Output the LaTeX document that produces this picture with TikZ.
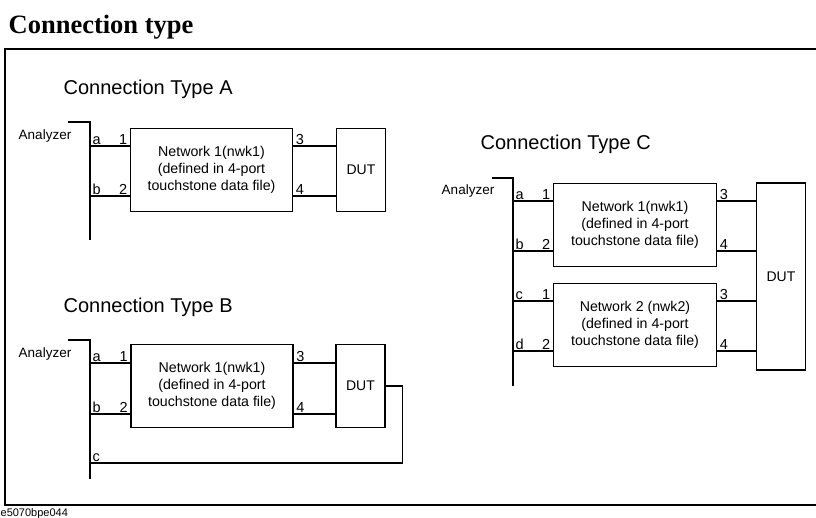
\documentclass[tikz,border=0pt]{standalone}
\usepackage{fontspec}
\setmainfont{Liberation Sans}
\newfontfamily\titlefont{Liberation Serif}
\begin{document}
\begin{tikzpicture}[x=1pt,y=-1pt,line width=1.3pt,
  netbox/.style={draw, minimum width=162pt, minimum height=83pt, align=center, inner sep=0pt,
    font=\fontsize{14.2}{17}\selectfont},
  dutbox/.style={draw, minimum width=49pt, minimum height=83pt, inner sep=0pt,
    font=\fontsize{14}{16}\selectfont},
  lbl/.style={font=\fontsize{14.5}{15}\selectfont, inner xsep=2pt, inner ysep=0.7pt},
  ttl/.style={font=\fontsize{20}{22}\selectfont, anchor=west, inner sep=0pt},
  anl/.style={font=\fontsize{13.5}{14}\selectfont, inner sep=0pt}]
\useasboundingbox (0,0) rectangle (816,517);
% heading and frame
\node[anchor=base west, inner sep=0pt, font=\titlefont\bfseries\fontsize{26.5}{28}\selectfont] (head) at (8,33) {Connection type};
\draw[line width=2pt] (816,48.5) -- (4.5,48.5) -- (4.5,505) -- (816,505);
\node[anchor=base west, inner sep=0pt, font=\fontsize{11}{12}\selectfont] (foot) at (0,516) {e5070bpe044};

% ---------------- Type A
\node[ttl] (tA) at (63,89) {Connection Type A};
\node[anl] (anA) at (45,136) {Analyzer};
\coordinate (Atop) at (68,122);
\coordinate (Aa) at (90,146);
\coordinate (Ab) at (90,196);
\coordinate (Aend) at (90,240);
\draw (Atop) -| (Aend);
\node[netbox] (nA) at (211.5,170) {Network 1(nwk1)\\(defined in 4-port\\touchstone data file)};
\node[dutbox] (dA) at (361,170) {DUT};
\draw (Aa) -- (Aa -| nA.west);
\draw (Ab) -- (Ab -| nA.west);
\draw (nA.east |- Aa) -- (dA.west |- Aa);
\draw (nA.east |- Ab) -- (dA.west |- Ab);
\node[lbl, anchor=south west] (Ala) at (Aa) {a};
\node[lbl, anchor=south west] (Alb) at (Ab) {b};
\node[lbl, anchor=south east] (Al1) at (Aa -| nA.west) {1};
\node[lbl, anchor=south east] (Al2) at (Ab -| nA.west) {2};
\node[lbl, anchor=south west] (Al3) at (nA.east |- Aa) {3};
\node[lbl, anchor=south west] (Al4) at (nA.east |- Ab) {4};

% ---------------- Type B
\node[ttl] (tB) at (63,307) {Connection Type B};
\node[anl] (anB) at (45,354) {Analyzer};
\coordinate (Btop) at (68,340);
\coordinate (Ba) at (90,363);
\coordinate (Bb) at (90,414);
\coordinate (Bc) at (90,463);
\coordinate (Bend) at (90,479);
\draw (Btop) -| (Bend);
\node[netbox] (nB) at (212,386) {Network 1(nwk1)\\(defined in 4-port\\touchstone data file)};
\node[dutbox] (dB) at (360.5,386) {DUT};
\draw (Ba) -- (Ba -| nB.west);
\draw (Bb) -- (Bb -| nB.west);
\draw (nB.east |- Ba) -- (dB.west |- Ba);
\draw (nB.east |- Bb) -- (dB.west |- Bb);
\draw (dB.east) -- ++(17,0) |- (Bc);
\node[lbl, anchor=south west] (Bla) at (Ba) {a};
\node[lbl, anchor=south west] (Blb) at (Bb) {b};
\node[lbl, anchor=south west] (Blc) at (Bc) {c};
\node[lbl, anchor=south east] (Bl1) at (Ba -| nB.west) {1};
\node[lbl, anchor=south east] (Bl2) at (Bb -| nB.west) {2};
\node[lbl, anchor=south west] (Bl3) at (nB.east |- Ba) {3};
\node[lbl, anchor=south west] (Bl4) at (nB.east |- Bb) {4};

% ---------------- Type C
\node[ttl] (tC) at (480,144) {Connection Type C};
\node[anl] (anC) at (468,191) {Analyzer};
\coordinate (Ctop) at (492,178);
\coordinate (Ca) at (513,201);
\coordinate (Cb) at (513,251);
\coordinate (Cc) at (513,301);
\coordinate (Cd) at (513,351);
\coordinate (Cend) at (513,386);
\draw (Ctop) -| (Cend);
\node[netbox, minimum width=163pt] (nC1) at (635,225) {Network 1(nwk1)\\(defined in 4-port\\touchstone data file)};
\node[netbox, minimum width=163pt] (nC2) at (635,325) {Network 2 (nwk2)\\(defined in 4-port\\touchstone data file)};
\node[dutbox, minimum height=187pt] (dC) at (781,276.5) {DUT};
\draw (Ca) -- (Ca -| nC1.west);
\draw (Cb) -- (Cb -| nC1.west);
\draw (Cc) -- (Cc -| nC2.west);
\draw (Cd) -- (Cd -| nC2.west);
\draw (nC1.east |- Ca) -- (dC.west |- Ca);
\draw (nC1.east |- Cb) -- (dC.west |- Cb);
\draw (nC2.east |- Cc) -- (dC.west |- Cc);
\draw (nC2.east |- Cd) -- (dC.west |- Cd);
\node[lbl, anchor=south west] (Cla) at (Ca) {a};
\node[lbl, anchor=south west] (Clb) at (Cb) {b};
\node[lbl, anchor=south west] (Clc) at (Cc) {c};
\node[lbl, anchor=south west] (Cld) at (Cd) {d};
\node[lbl, anchor=south east] (Cl1) at (Ca -| nC1.west) {1};
\node[lbl, anchor=south east] (Cl2) at (Cb -| nC1.west) {2};
\node[lbl, anchor=south east] (Cl1b) at (Cc -| nC2.west) {1};
\node[lbl, anchor=south east] (Cl2b) at (Cd -| nC2.west) {2};
\node[lbl, anchor=south west] (Cl3) at (nC1.east |- Ca) {3};
\node[lbl, anchor=south west] (Cl4) at (nC1.east |- Cb) {4};
\node[lbl, anchor=south west] (Cl3b) at (nC2.east |- Cc) {3};
\node[lbl, anchor=south west] (Cl4b) at (nC2.east |- Cd) {4};
\end{tikzpicture}
\end{document}
